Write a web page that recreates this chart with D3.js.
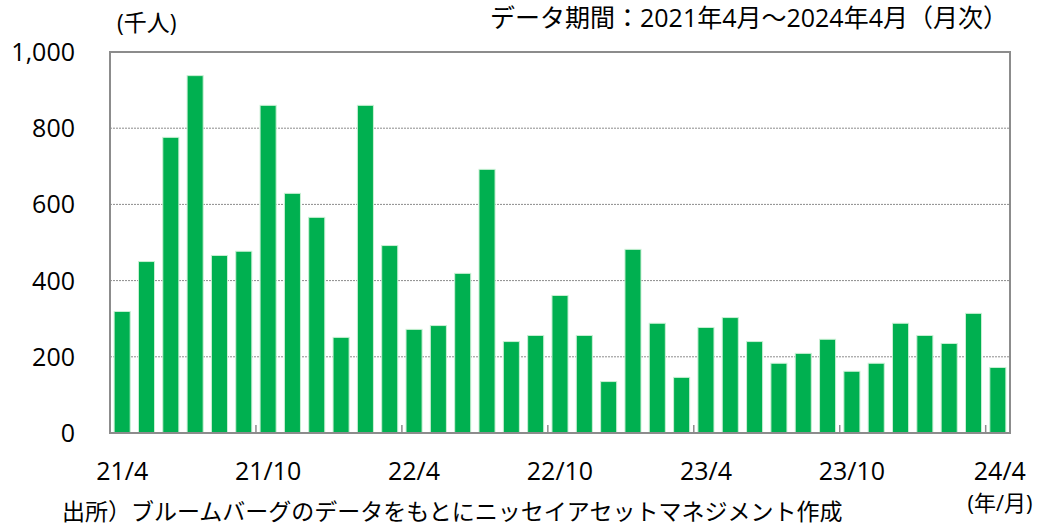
<!DOCTYPE html>
<html>
<head>
<meta charset="utf-8">
<script src="https://cdn.jsdelivr.net/npm/d3@7"></script>
<style>
  body { margin: 0; background: #fff; }
  text { font-family: "Open Sans", "Noto Sans CJK JP", sans-serif; fill: #000; }
</style>
</head>
<body>
<svg id="chart" width="1042" height="526"></svg>
<script>
// monthly values, 2021/4 .. 2024/4 (thousand people)
const months = [
  "21/4","21/5","21/6","21/7","21/8","21/9","21/10","21/11","21/12",
  "22/1","22/2","22/3","22/4","22/5","22/6","22/7","22/8","22/9","22/10","22/11","22/12",
  "23/1","23/2","23/3","23/4","23/5","23/6","23/7","23/8","23/9","23/10","23/11","23/12",
  "24/1","24/2","24/3","24/4"
];
const values = [
  319, 450, 776, 938, 466, 477, 860, 629, 566,
  251, 860, 492, 272, 282, 419, 692, 240, 256, 361, 256, 135,
  482, 288, 146, 277, 303, 240, 183, 209, 246, 162, 183, 288,
  256, 235, 314, 172
];
const yTicks = [0, 200, 400, 600, 800, 1000];
const xLabels = ["21/4","21/10","22/4","22/10","23/4","23/10","24/4"];

function main() {
  const svg = d3.select("svg#chart");
  const left = 110, right = 1010, top = 52, bottom = 433;

  const x = d3.scaleBand().domain(months).range([left, right]).paddingInner(0.34).paddingOuter(0.17);
  const y = d3.scaleLinear().domain([0, 1000]).range([bottom, top]);

  // dotted gridlines
  svg.append("g")
    .selectAll("line")
    .data(yTicks.filter(d => d > 0 && d < 1000))
    .join("line")
    .attr("x1", left).attr("x2", right)
    .attr("y1", d => y(d)).attr("y2", d => y(d))
    .attr("stroke", "#8c8c8c")
    .attr("stroke-width", 1)
    .attr("stroke-dasharray", "2,1");

  // bars
  svg.append("g")
    .selectAll("rect")
    .data(values)
    .join("rect")
    .attr("x", (d, i) => x(months[i]))
    .attr("y", d => y(d))
    .attr("width", x.bandwidth())
    .attr("height", d => bottom - y(d))
    .attr("fill", "#00b050")
    .attr("stroke", "#c9f0d4")
    .attr("stroke-width", 1);

  // frame
  svg.append("rect")
    .attr("x", left).attr("y", top)
    .attr("width", right - left).attr("height", bottom - top)
    .attr("fill", "none")
    .attr("stroke", "#8c8c8c")
    .attr("stroke-width", 2);

  // small inside ticks on the x axis (between bars, every 6 months)
  const step = x.step();
  svg.append("g")
    .selectAll("line")
    .data(xLabels.slice(1))
    .join("line")
    .attr("x1", d => x(d) - (step - x.bandwidth()) / 2)
    .attr("x2", d => x(d) - (step - x.bandwidth()) / 2)
    .attr("y1", bottom - 8).attr("y2", bottom)
    .attr("stroke", "#8c8c8c")
    .attr("stroke-width", 1.5);

  // y labels
  svg.append("g")
    .selectAll("text")
    .data(yTicks)
    .join("text")
    .attr("x", 75)
    .attr("y", d => y(d) + 9)
    .attr("text-anchor", "end")
    .attr("font-size", 25)
    .text(d => d3.format(",")(d));

  // x labels
  svg.append("g")
    .selectAll("text")
    .data(xLabels)
    .join("text")
    .attr("x", d => x(d) + x.bandwidth() / 2 + (d === "24/4" ? 2 : 0))
    .attr("y", 480)
    .attr("text-anchor", "middle")
    .attr("font-size", 25)
    .text(d => d);

  svg.append("text").attr("x", 1000).attr("y", 511).attr("text-anchor", "middle")
    .attr("font-size", 22).text("(年/月)");

  svg.append("text").attr("x", 117).attr("y", 31).attr("font-size", 23).text("(千人)");

  svg.append("text").attr("x", 490).attr("y", 27).attr("font-size", 25)
    .text("データ期間：2021年4月～2024年4月（月次）");

  svg.append("text").attr("x", 62).attr("y", 520).attr("font-size", 23)
    .text("出所）ブルームバーグのデータをもとにニッセイアセットマネジメント作成");
}

main()
</script>
</body>
</html>
